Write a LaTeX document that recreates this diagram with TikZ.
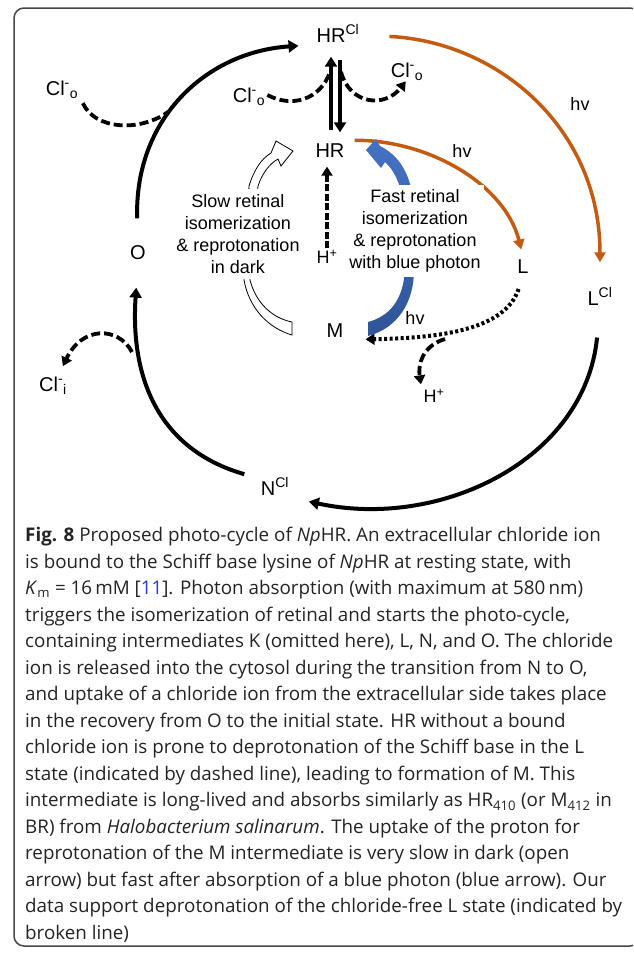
\documentclass[tikz,border=0pt]{standalone}
\usepackage{fontspec}
\setmainfont{Liberation Sans}
\newfontfamily\capfont{Open Sans}
\usetikzlibrary{arrows.meta}
\definecolor{hvorange}{RGB}{197,90,17}
\definecolor{bluetop}{RGB}{68,114,196}
\definecolor{bluebot}{RGB}{47,85,151}
\definecolor{refblue}{RGB}{40,60,210}
\definecolor{framegray}{RGB}{70,70,70}
\definecolor{captext}{RGB}{35,35,35}
\newcommand{\clion}[1]{Cl\textsuperscript{-}\textsubscript{#1}}
\newcommand{\withcl}[1]{#1\textsuperscript{Cl}}

\begin{document}
\begin{tikzpicture}[x=1pt,y=-1pt,
  state/.style={font=\fontsize{20}{24}\selectfont,text height=15pt,text depth=0pt,inner sep=2pt},
  small/.style={font=\fontsize{18}{22}\selectfont,text height=13pt,text depth=0pt,inner sep=2pt},
  note/.style={font=\fontsize{18}{22}\selectfont,align=center,fill=white,inner xsep=3pt,inner ysep=5pt},
  cyc/.style={line width=4pt,-{Triangle[length=10pt,width=12pt]}},
  photo/.style={hvorange,line width=3.5pt,-{Triangle[length=10pt,width=11pt]}},
  ion/.style={line width=3.8pt,dash pattern=on 9pt off 4pt},
  proton/.style={line width=3.8pt,dash pattern=on 7pt off 2.5pt,-{Triangle[length=9pt,width=11pt]}},
  deprot/.style={line width=4pt,dash pattern=on 3pt off 2.5pt,-{Triangle[length=9pt,width=11pt]}}]
\useasboundingbox (0,0) rectangle (633,954);
\begin{scope}
\clip (0,0) rectangle (633,954);
\draw[framegray,line width=1.5pt,rounded corners=10pt] (14,8) rectangle (640,946);
\end{scope}

% states
\node[state] (hrcl) at (338,35) {\withcl{HR}};
\node[state] (hr) at (330,150) {HR};
\node[state] (o) at (138,252) {O};
\node[state] (l) at (523,266) {L};
\node[state] (lcl) at (600,298) {\withcl{L}};
\node[state] (m) at (335,330) {M};
\node[state] (ncl) at (275,488) {\withcl{N}};
% ions
\node[state] (clo1) at (62,88) {\clion{o}};
\node[state] (clo2) at (249,95) {\clion{o}};
\node[state] (clo3) at (407,70) {\clion{o}};
\node[state] (cli) at (53,384) {\clion{i}};
\node[small] (hp1) at (327,257) {H\textsuperscript{+}};
\node[small] (hp2) at (434,396) {H\textsuperscript{+}};
\node[small] (hv1) at (580,104) {hv};
\node[small] (hv2) at (462,151) {hv};
\node[small] (hv3) at (415,318) {hv};

% main cycle
\draw[cyc,shorten <=24pt,shorten >=16pt] (o.north) .. controls (134,120) and (205,52) .. (hrcl.south west);
\draw[photo,shorten <=28pt,shorten >=26pt] (hrcl.east) .. controls (500,42) and (600,130) .. (lcl.north);
\draw[cyc,shorten <=30pt,shorten >=18pt] (lcl.south) .. controls (585,460) and (440,530) .. (ncl.south east);
\draw[cyc,shorten <=15pt,shorten >=26pt] (ncl.north west) .. controls (160,450) and (130,380) .. (o.south);
\draw[cyc,shorten <=10pt,shorten >=12pt] ([xshift=1pt]hr.north) -- ([xshift=-7pt]hrcl.south);
\draw[cyc,shorten <=15pt,shorten >=8pt] ([xshift=2pt]hrcl.south) -- ([xshift=10pt]hr.north);
\draw[photo,shorten <=8pt,shorten >=7pt] (hr.north east) .. controls (430,140) and (505,185) .. (l.north);
\draw[proton,shorten >=7pt] (hp1.north) -- (hp1.north |- hr.south);

% chloride uptake and release
\coordinate (joinl) at (168,112);
\coordinate (joinm) at (330,72);
\coordinate (joinr) at (341,72);
\coordinate (joini) at (132,352);
\coordinate (split) at (445,339);
\draw[ion,shorten <=6pt] (clo1.south east) .. controls (95,130) and (140,132) .. (joinl);
\draw[ion] (clo2.east) .. controls (292,108) and (320,100) .. (joinm);
\draw[ion,-{Triangle[length=9pt,width=11pt]},shorten >=2pt] (joinr) .. controls (350,105) and (385,108) .. (clo3.south);
\draw[ion,-{Triangle[length=9pt,width=11pt]},shorten >=9pt] (joini) .. controls (118,326) and (82,326) .. ([xshift=6pt]cli.north);

% deprotonation of L
\draw[deprot,shorten <=14pt,shorten >=20pt] (l.south) .. controls (505,330) and (440,338) .. (m.south east);
\draw[ion,-{Triangle[length=9pt,width=11pt]},shorten >=3pt] (split) .. controls (422,346) and (418,365) .. (hp2.north west);

% reprotonation arrows
\draw[line width=0.8pt,fill=white]
  (292,335) .. controls (268,328) and (249,308) .. (244,280)
  -- (249,186) .. controls (254,170) and (261,159) .. (271,153)
  -- (276,141) -- (293,151) -- (281,166) -- (278,159)
  .. controls (269,164) and (262,174) .. (258,186)
  -- (250,280) .. controls (256,303) and (272,318) .. (292,322) -- cycle;
\shade[top color=bluetop,bottom color=bluebot]
  (366,150) -- (376,139) -- (380,146) .. controls (398,155) and (410,172) .. (413,200)
  -- (414,270) .. controls (414,302) and (398,328) .. (368,336)
  -- (368,322) .. controls (390,316) and (403,300) .. (405,270)
  -- (403,200) .. controls (400,183) and (394,170) .. (385,162)
  -- (381,168) -- cycle;
\node[note] (slow) at (238,234) {Slow retinal\\isomerization\\\& reprotonation\\in dark};
\node[note] (fast) at (415,231) {Fast retinal\\isomerization\\\& reprotonation\\with blue photon};

% caption
\node[anchor=north west,align=left,inner sep=0pt,text=captext,font=\capfont\fontsize{18.8}{26.5}\selectfont] (caption) at (25,527) {%
\textbf{Fig. 8} Proposed photo-cycle of \textit{Np}HR. An extracellular chloride ion\\
is bound to the Schiff base lysine of \textit{Np}HR at resting state, with\\
\textit{K}\textsubscript{m} = 16\,mM [\textcolor{refblue}{11}]. Photon absorption (with maximum at 580\,nm)\\
triggers the isomerization of retinal and starts the photo-cycle,\\
containing intermediates K (omitted here), L, N, and O. The chloride\\
ion is released into the cytosol during the transition from N to O,\\
and uptake of a chloride ion from the extracellular side takes place\\
in the recovery from O to the initial state. HR without a bound\\
chloride ion is prone to deprotonation of the Schiff base in the L\\
state (indicated by dashed line), leading to formation of M. This\\
intermediate is long-lived and absorbs similarly as HR\textsubscript{410} (or M\textsubscript{412} in\\
BR) from \textit{Halobacterium salinarum}. The uptake of the proton for\\
reprotonation of the M intermediate is very slow in dark (open\\
arrow) but fast after absorption of a blue photon (blue arrow). Our\\
data support deprotonation of the chloride-free L state (indicated by\\
broken line)};
\end{tikzpicture}
\end{document}
